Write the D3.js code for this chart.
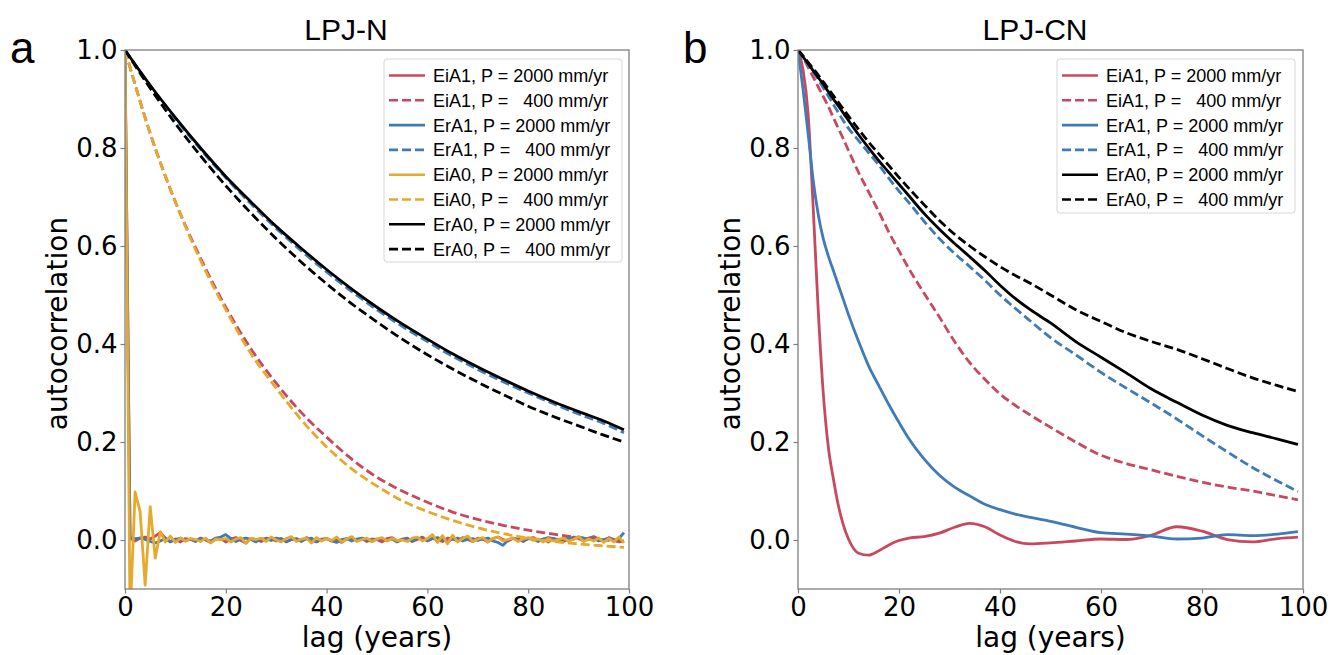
<!DOCTYPE html>
<html lang="en">
<head>
<meta charset="UTF-8">
<title>Autocorrelation LPJ-N / LPJ-CN</title>
<script src="https://d3js.org/d3.v7.min.js"></script>
<style>
    body { margin: 0; background: #fff; }
    .tick text { font-family: "DejaVu Sans", sans-serif; font-size: 26px; fill: #000; }
    .axis_label { font-family: "DejaVu Sans", sans-serif; font-size: 28px; }
    .title { font-family: "Liberation Sans", Arial, sans-serif; font-size: 30px; }
    .panel_label { font-family: "Liberation Sans", Arial, sans-serif; font-size: 44px; }
    .legend_text { font-family: "Liberation Sans", Arial, sans-serif; font-size: 18px; white-space: pre; }
</style>
</head>
<body>
<svg width="1331" height="655"></svg>
<script>
    // ---------- data ----------
    const lagsFull = d3.range(0, 100);          // 0..99 (noisy series, panel a)
    const lagsSmoothA = [0,5,10,15,20,25,30,35,40,45,50,55,60,65,70,75,80,85,90,95,99];
    const lagsB = [0,1,2,3,4,5,6,7,8,9,10,12,14,16,18,20,22,25,28,31,34,37,40,43,46,50,55,60,65,70,75,80,85,90,95,99];

    const xTicks = [0, 20, 40, 60, 80, 100];
    const yTicks = [0.0, 0.2, 0.4, 0.6, 0.8, 1.0];

    // panel a (LPJ-N)
    const a_EiA1_2000 = [1.0,0.003,-0.002,0.004,0.006,0.002,0.008,0.015,0.004,-0.003,
        0.002,-0.004,0.003,0.001,-0.002,0.004,0.0,-0.005,0.002,0.003,
        -0.004,0.002,0.005,-0.001,-0.006,0.003,0.001,-0.003,0.004,0.002,
        -0.002,0.003,-0.004,0.001,0.002,-0.003,0.005,0.0,-0.004,0.002,
        0.003,-0.002,0.001,-0.005,0.002,0.004,-0.001,0.003,-0.003,0.002,
        0.001,-0.004,0.003,0.005,-0.002,0.002,0.004,-0.003,0.001,0.006,
        -0.002,0.003,0.0,-0.003,0.004,0.002,-0.002,0.005,0.001,-0.003,
        0.004,0.002,-0.004,0.003,0.006,0.001,-0.002,0.004,0.002,-0.003,
        0.003,0.005,-0.001,0.002,-0.004,0.003,0.001,-0.003,0.002,0.006,
        0.003,-0.002,0.004,0.007,0.002,-0.003,0.005,0.001,-0.004,-0.002];
    const a_EiA1_400 = [1.0,0.83,0.69,0.575,0.475,0.39,0.32,0.26,0.21,0.165,0.128,0.1,0.077,0.057,0.042,0.03,0.02,0.012,0.005,0.0,-0.003];
    const a_ErA1_2000 = [1.0,0.005,0.003,0.004,0.001,-0.003,-0.006,-0.002,0.003,-0.004,
        0.001,0.004,-0.002,0.002,-0.003,0.003,0.001,-0.002,0.004,0.006,
        0.011,0.003,-0.003,0.002,0.004,0.001,-0.004,0.003,0.002,-0.001,
        0.004,0.002,-0.003,0.001,0.003,-0.002,0.002,0.004,-0.003,0.0,
        0.003,-0.002,-0.005,0.001,0.003,-0.002,0.002,0.004,0.0,-0.003,
        0.002,0.003,-0.001,0.002,-0.004,0.001,0.003,-0.002,0.004,0.002,
        -0.001,0.003,0.005,0.001,-0.003,0.002,0.004,-0.002,0.001,0.003,
        -0.001,0.002,0.004,-0.002,-0.005,-0.011,0.0,0.003,0.001,-0.002,
        0.003,0.002,-0.003,0.002,0.005,0.003,-0.001,0.002,0.004,0.003,
        0.006,0.004,0.002,0.003,-0.002,0.001,0.004,-0.001,0.003,0.015];
    const a_ErA1_400 = [1.0,0.927,0.86,0.797,0.739,0.686,0.636,0.59,0.547,0.507,0.47,0.436,0.405,0.375,0.348,0.323,0.3,0.278,0.257,0.238,0.219];
    const a_EiA0_2000 = [1.0,-0.16,0.098,0.058,-0.092,0.068,-0.037,0.017,-0.004,0.008,
        -0.005,0.004,-0.002,0.003,0.001,-0.003,0.004,-0.006,0.002,0.001,
        0.003,-0.004,0.002,0.005,-0.007,0.003,0.001,0.004,-0.003,0.006,
        0.0,-0.004,0.003,0.007,-0.003,0.002,0.004,-0.006,0.005,-0.002,
        0.003,-0.001,0.006,-0.004,0.002,0.007,-0.003,0.001,0.004,-0.003,
        0.002,0.005,-0.002,0.003,-0.001,0.0,-0.003,0.004,0.006,-0.002,
        0.003,0.011,-0.005,0.009,-0.008,0.01,-0.004,0.003,0.008,-0.003,
        0.002,0.005,-0.004,0.003,0.006,-0.002,0.001,0.004,-0.003,0.002,
        0.005,-0.001,0.002,-0.004,0.003,-0.002,0.001,0.004,-0.002,0.001,
        0.007,-0.003,0.002,-0.002,0.004,-0.005,0.003,-0.004,0.006,-0.006];
    const a_EiA0_400 = [1.0,0.83,0.69,0.57,0.47,0.38,0.31,0.245,0.19,0.145,0.11,0.08,0.058,0.04,0.025,0.013,0.004,-0.003,-0.008,-0.012,-0.015];
    const a_ErA0_2000 = [1.0,0.928,0.862,0.8,0.742,0.69,0.64,0.595,0.552,0.512,0.475,0.441,0.41,0.38,0.353,0.328,0.304,0.282,0.262,0.243,0.225];
    const a_ErA0_400 = [1.0,0.922,0.85,0.784,0.723,0.667,0.615,0.567,0.523,0.482,0.445,0.41,0.378,0.349,0.322,0.297,0.273,0.252,0.233,0.214,0.2];

    // panel b (LPJ-CN)
    const b_EiA1_2000 = [1.0,0.96,0.87,0.68,0.47,0.3,0.19,0.125,0.07,0.03,0.002,-0.027,-0.031,-0.022,-0.01,-0.001,0.004,0.007,0.014,0.026,0.034,0.027,0.01,-0.003,-0.008,-0.006,-0.002,0.002,0.001,0.01,0.027,0.018,0.001,-0.004,0.003,0.006];
    const b_EiA1_400 = [1.0,0.985,0.965,0.945,0.925,0.905,0.885,0.862,0.84,0.818,0.795,0.75,0.71,0.67,0.628,0.59,0.553,0.503,0.455,0.405,0.362,0.328,0.298,0.275,0.255,0.23,0.2,0.173,0.156,0.143,0.13,0.118,0.108,0.1,0.09,0.082];
    const b_ErA1_2000 = [1.0,0.92,0.83,0.735,0.665,0.615,0.58,0.55,0.52,0.49,0.46,0.405,0.355,0.315,0.276,0.24,0.206,0.165,0.132,0.108,0.09,0.073,0.062,0.053,0.046,0.038,0.026,0.015,0.012,0.008,0.002,0.004,0.011,0.009,0.012,0.017];
    const b_ErA1_400 = [1.0,0.985,0.97,0.955,0.94,0.923,0.906,0.889,0.872,0.855,0.84,0.815,0.79,0.765,0.738,0.712,0.688,0.65,0.615,0.585,0.558,0.53,0.5,0.473,0.447,0.413,0.378,0.342,0.31,0.279,0.247,0.213,0.18,0.148,0.12,0.099];
    const b_ErA0_2000 = [1.0,0.986,0.972,0.958,0.944,0.93,0.915,0.9,0.886,0.871,0.856,0.827,0.8,0.774,0.75,0.726,0.702,0.666,0.634,0.605,0.578,0.55,0.52,0.493,0.47,0.443,0.405,0.373,0.341,0.308,0.281,0.255,0.234,0.219,0.206,0.195];
    const b_ErA0_400 = [1.0,0.988,0.975,0.962,0.949,0.935,0.921,0.907,0.893,0.879,0.865,0.838,0.812,0.788,0.764,0.74,0.717,0.684,0.652,0.624,0.6,0.578,0.558,0.54,0.524,0.5,0.47,0.446,0.423,0.405,0.389,0.37,0.35,0.331,0.315,0.303];

    const RED = "#c8485f", BLUE = "#3f7bb6", YELLOW = "#e6a92b", BLACK = "#000000";

    const seriesA = [
        {name: "EiA1, P = 2000 mm/yr", lags: lagsFull,    vals: a_EiA1_2000, color: RED,    dash: false, curve: d3.curveLinear},
        {name: "EiA1, P =   400 mm/yr", lags: lagsSmoothA, vals: a_EiA1_400,  color: RED,    dash: true,  curve: d3.curveMonotoneX},
        {name: "ErA1, P = 2000 mm/yr", lags: lagsFull,    vals: a_ErA1_2000, color: BLUE,   dash: false, curve: d3.curveLinear},
        {name: "ErA1, P =   400 mm/yr", lags: lagsSmoothA, vals: a_ErA1_400,  color: BLUE,   dash: true,  curve: d3.curveMonotoneX},
        {name: "EiA0, P = 2000 mm/yr", lags: lagsFull,    vals: a_EiA0_2000, color: YELLOW, dash: false, curve: d3.curveLinear},
        {name: "EiA0, P =   400 mm/yr", lags: lagsSmoothA, vals: a_EiA0_400,  color: YELLOW, dash: true,  curve: d3.curveMonotoneX},
        {name: "ErA0, P = 2000 mm/yr", lags: lagsSmoothA, vals: a_ErA0_2000, color: BLACK,  dash: false, curve: d3.curveMonotoneX},
        {name: "ErA0, P =   400 mm/yr", lags: lagsSmoothA, vals: a_ErA0_400,  color: BLACK,  dash: true,  curve: d3.curveMonotoneX}
    ];
    const seriesB = [
        {name: "EiA1, P = 2000 mm/yr", lags: lagsB, vals: b_EiA1_2000, color: RED,   dash: false},
        {name: "EiA1, P =   400 mm/yr", lags: lagsB, vals: b_EiA1_400,  color: RED,   dash: true},
        {name: "ErA1, P = 2000 mm/yr", lags: lagsB, vals: b_ErA1_2000, color: BLUE,  dash: false},
        {name: "ErA1, P =   400 mm/yr", lags: lagsB, vals: b_ErA1_400,  color: BLUE,  dash: true},
        {name: "ErA0, P = 2000 mm/yr", lags: lagsB, vals: b_ErA0_2000, color: BLACK, dash: false},
        {name: "ErA0, P =   400 mm/yr", lags: lagsB, vals: b_ErA0_400,  color: BLACK, dash: true}
    ];

    let svg = d3.select("svg");

    function drawPanel(id, box, title, titleX, letter, series, legendBox)
    {
        let x = d3.scaleLinear().domain([0, 100]).range([box.left, box.right]);
        let y = d3.scaleLinear().domain([-0.1, 1.0]).range([box.bottom, box.top]);

        let g = svg.append("g");

        // clip to axes area
        g.append("clipPath").attr("id", "clip" + id)
            .append("rect")
            .attr("x", box.left).attr("y", box.top)
            .attr("width", box.right - box.left).attr("height", box.bottom - box.top);

        let plot = g.append("g").attr("clip-path", "url(#clip" + id + ")");
        series.forEach(function (s) {
            let line = d3.line()
                .x(function (d, i) { return x(s.lags[i]); })
                .y(function (d) { return y(d); })
                .curve(s.curve || d3.curveMonotoneX);
            plot.append("path")
                .attr("d", line(s.vals))
                .attr("fill", "none")
                .attr("stroke", s.color)
                .attr("stroke-width", 2.8)
                .attr("stroke-linejoin", "round")
                .attr("stroke-dasharray", s.dash ? "9,4" : null);
        });

        // axes
        let xAxis = d3.axisBottom(x).tickValues(xTicks).tickFormat(d3.format("d")).tickSize(4.5).tickPadding(4);
        let yAxis = d3.axisLeft(y).tickValues(yTicks).tickFormat(d3.format(".1f")).tickSize(4.5).tickPadding(3);
        let gx = g.append("g").attr("transform", "translate(0," + box.bottom + ")").call(xAxis);
        let gy = g.append("g").attr("transform", "translate(" + box.left + ",0)").call(yAxis);
        [gx, gy].forEach(function (a) {
            a.select(".domain").remove();
            a.selectAll(".tick line").attr("stroke", "#7f7f7f").attr("stroke-width", 1.2);
        });

        // spines
        g.append("rect")
            .attr("x", box.left).attr("y", box.top)
            .attr("width", box.right - box.left).attr("height", box.bottom - box.top)
            .attr("fill", "none").attr("stroke", "#7f7f7f").attr("stroke-width", 1.3);

        // labels
        g.append("text").attr("class", "axis_label")
            .attr("x", (box.left + box.right) / 2).attr("y", 647)
            .attr("text-anchor", "middle").text("lag (years)");
        g.append("text").attr("class", "axis_label")
            .attr("transform", "translate(" + (box.left - 58) + "," + ((box.top + box.bottom) / 2 + 4) + ") rotate(-90)")
            .attr("text-anchor", "middle").text("autocorrelation");
        g.append("text").attr("class", "title")
            .attr("x", titleX).attr("y", 40)
            .attr("text-anchor", "middle").text(title);
        g.append("text").attr("class", "panel_label")
            .attr("x", box.left - 115).attr("y", 63).text(letter);

        // legend
        let lg = g.append("g");
        lg.append("rect")
            .attr("x", legendBox.x).attr("y", legendBox.y)
            .attr("width", legendBox.w).attr("height", legendBox.h)
            .attr("rx", 3)
            .attr("fill", "#fff").attr("fill-opacity", 0.85)
            .attr("stroke", "#d6d6d6").attr("stroke-width", 1);
        series.forEach(function (s, i) {
            let yy = legendBox.y + 16.5 + i * 24.8;
            lg.append("line")
                .attr("x1", legendBox.x + 5).attr("x2", legendBox.x + 41)
                .attr("y1", yy).attr("y2", yy)
                .attr("stroke", s.color).attr("stroke-width", 2.6)
                .attr("stroke-dasharray", s.dash ? "9,4" : null);
            lg.append("text").attr("class", "legend_text")
                .attr("x", legendBox.x + 49).attr("y", yy + 6.5)
                .text(s.name);
        });
    }

    drawPanel("a", {left: 125, right: 629, top: 50, bottom: 589}, "LPJ-N", 346, "a", seriesA,
        {x: 384, y: 59, w: 238, h: 203});
    drawPanel("b", {left: 798, right: 1303, top: 50, bottom: 589}, "LPJ-CN", 1035, "b", seriesB,
        {x: 1057, y: 59, w: 238, h: 154});
</script>
</body>
</html>
